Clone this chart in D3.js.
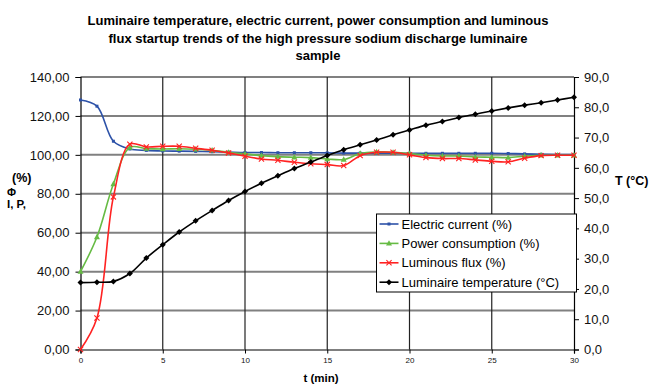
<!DOCTYPE html>
<html>
<head>
<meta charset="utf-8">
<script src="https://cdn.jsdelivr.net/npm/d3@7/dist/d3.min.js"></script>
<style>
  html, body { margin: 0; padding: 0; background: #fff; }
  svg { display: block; font-family: "Liberation Sans", Arial, sans-serif; }
</style>
</head>
<body>
<svg id="chart" width="653" height="385"></svg>
<script>
// Time axis (minutes)
const minutes = d3.range(0, 31);

// Electric current (%)
const current = [128.2, 125.0, 107.0, 103.0, 102.3, 102.0, 101.9, 101.8, 101.6, 101.4, 101.2,
                 101.2, 101.1, 101.1, 101.1, 101.0, 100.9, 100.9, 100.9, 100.9, 100.8,
                 100.8, 100.8, 100.8, 100.8, 100.8, 100.7, 100.5, 100.3, 100.2, 100.2];

// Power consumption (%)
const power = [40.0, 57.8, 85.0, 103.8, 103.2, 103.0, 103.1, 102.9, 102.4, 101.3, 100.5,
               99.6, 99.1, 98.8, 98.6, 97.9, 97.6, 100.7, 101.5, 101.3, 100.7,
               99.8, 99.4, 99.4, 98.9, 98.8, 98.6, 99.3, 99.8, 99.8, 99.8];

// Luminous flux (%)
const flux = [0.0, 16.2, 78.4, 105.5, 104.1, 104.4, 104.4, 103.4, 102.4, 101.0, 99.3,
              97.9, 97.2, 96.2, 95.4, 95.0, 94.5, 99.6, 101.3, 101.3, 100.0,
              98.6, 98.1, 98.1, 97.4, 96.7, 96.4, 98.3, 99.6, 99.8, 99.8];

// Luminaire temperature (°C)
const temperature = [22.1, 22.2, 22.5, 25.1, 30.2, 34.6, 38.8, 42.5, 45.9, 49.2, 52.2,
                     54.9, 57.4, 59.8, 61.9, 64.1, 66.0, 67.6, 69.2, 70.9, 72.5,
                     74.1, 75.3, 76.6, 77.7, 78.8, 79.8, 80.7, 81.5, 82.4, 83.3];

const leftTicks = [0, 20, 40, 60, 80, 100, 120, 140];
const rightTicks = [0, 10, 20, 30, 40, 50, 60, 70, 80, 90];
const timeTicks = [0, 5, 10, 15, 20, 25, 30];

const titleLines = [
  "Luminaire temperature, electric current, power consumption and luminous",
  "flux startup trends of the high pressure sodium discharge luminaire",
  "sample"
];

const seriesNames = ["Electric current (%)", "Power consumption (%)", "Luminous flux (%)", "Luminaire temperature (°C)"];

const svg = d3.select("#chart");
const plot = { left: 80.5, right: 574, top: 77, bottom: 349.5 };

const x = d3.scaleLinear().domain([0, 30]).range([plot.left, plot.right]);
const yL = d3.scaleLinear().domain([0, 140]).range([plot.bottom, plot.top]);
const yR = d3.scaleLinear().domain([0, 90]).range([plot.bottom, plot.top]);

const fmt2 = v => d3.format(".2f")(v).replace(".", ",");
const fmt1 = v => d3.format(".1f")(v).replace(".", ",");

// Horizontal gridlines (left scale)
svg.append("g").selectAll("line").data(leftTicks.filter(d => d > 0)).join("line")
  .attr("x1", plot.left).attr("x2", plot.right)
  .attr("y1", d => yL(d)).attr("y2", d => yL(d))
  .attr("stroke", "#808080").attr("stroke-width", 2);

// Vertical gridlines
svg.append("g").selectAll("line").data(timeTicks.filter(d => d > 0 && d < 30)).join("line")
  .attr("x1", d => x(d)).attr("x2", d => x(d))
  .attr("y1", plot.top).attr("y2", plot.bottom)
  .attr("stroke", "#222").attr("stroke-width", 1.2);

// Axes
const axL = d3.axisLeft(yL).tickValues(leftTicks).tickFormat(fmt2).tickSize(5).tickPadding(6);
const gL = svg.append("g").attr("transform", `translate(${plot.left},0)`).call(axL);
gL.selectAll("text").attr("font-size", 13).attr("fill", "#111");

const axR = d3.axisRight(yR).tickValues(rightTicks).tickFormat(fmt1).tickSize(5).tickPadding(5);
const gR = svg.append("g").attr("transform", `translate(${plot.right},0)`).call(axR);
gR.selectAll("text").attr("font-size", 13).attr("fill", "#111");

const axB = d3.axisBottom(x).tickValues(timeTicks).tickFormat(d3.format("d")).tickSize(4).tickPadding(4);
const gB = svg.append("g").attr("transform", `translate(0,${plot.bottom})`).call(axB);
gB.selectAll("text").attr("font-size", 8).attr("fill", "#111");

[gL, gR, gB].forEach(g => {
  g.select(".domain").attr("stroke", "#000").attr("stroke-width", 1.2);
  g.selectAll(".tick line").attr("stroke", "#000");
});

// Series
const series = [
  { name: seriesNames[0], values: current, scale: yL, color: "#2d52a8", marker: "square" },
  { name: seriesNames[1], values: power, scale: yL, color: "#66bb44", marker: "triangle" },
  { name: seriesNames[2], values: flux, scale: yL, color: "#ff2222", marker: "cross" },
  { name: seriesNames[3], values: temperature, scale: yR, color: "#000000", marker: "diamond" }
];

function drawMarker(g, type, color) {
  if (type === "square") {
    g.append("rect").attr("x", -1.5).attr("y", -1.5).attr("width", 3).attr("height", 3).attr("fill", color);
  } else if (type === "triangle") {
    g.append("path").attr("d", "M0,-3.2L3,2.2L-3,2.2Z").attr("fill", color);
  } else if (type === "cross") {
    g.append("path").attr("d", "M-2.6,-2.6L2.6,2.6M-2.6,2.6L2.6,-2.6").attr("stroke", color).attr("stroke-width", 1.1);
  } else {
    g.append("path").attr("d", "M0,-3L3,0L0,3L-3,0Z").attr("fill", color);
  }
}

series.forEach(s => {
  const line = d3.line()
    .x((d, i) => x(minutes[i]))
    .y(d => s.scale(d))
    .curve(d3.curveCatmullRom.alpha(0.5));
  svg.append("path").datum(s.values)
    .attr("d", line).attr("fill", "none")
    .attr("stroke", s.color).attr("stroke-width", 1.6);
  svg.append("g").selectAll("g").data(s.values).join("g")
    .attr("transform", (d, i) => `translate(${x(minutes[i])},${s.scale(d)})`)
    .each(function () { drawMarker(d3.select(this), s.marker, s.color); });
});

// Title
svg.append("g").selectAll("text").data(titleLines).join("text")
  .attr("x", 318).attr("y", (d, i) => 25 + i * 17.5)
  .attr("text-anchor", "middle").attr("font-size", 13).attr("font-weight", "bold")
  .attr("fill", "#000").text(d => d);

// Axis titles
svg.append("text").attr("x", 321).attr("y", 382).attr("text-anchor", "middle")
  .attr("font-size", 11.5).attr("font-weight", "bold").text("t (min)");
svg.append("text").attr("x", 615).attr("y", 185)
  .attr("font-size", 12.5).attr("font-weight", "bold").text("T (°C)");
svg.append("text").attr("x", 12).attr("y", 182)
  .attr("font-size", 12.5).attr("font-weight", "bold").text("(%)");
svg.append("text").attr("x", 7).attr("y", 196)
  .attr("font-size", 11).attr("font-weight", "bold").text("Φ");
svg.append("text").attr("x", 7).attr("y", 208)
  .attr("font-size", 11.5).attr("font-weight", "bold").text("I, P,");

// Legend
const legend = svg.append("g").attr("transform", "translate(376.5,214)");
legend.append("rect").attr("width", 200).attr("height", 78)
  .attr("fill", "#fff").attr("stroke", "#000").attr("stroke-width", 1);
series.forEach((s, i) => {
  const row = legend.append("g").attr("transform", `translate(0,${10 + i * 19.4})`);
  row.append("line").attr("x1", 3).attr("x2", 22).attr("y1", 0).attr("y2", 0)
    .attr("stroke", s.color).attr("stroke-width", 1.6);
  drawMarker(row.append("g").attr("transform", "translate(12.5,0)"), s.marker, s.color);
  row.append("text").attr("x", 25).attr("y", 4.6).attr("font-size", 13)
    .attr("fill", "#000").text(s.name);
});
</script>
</body>
</html>
